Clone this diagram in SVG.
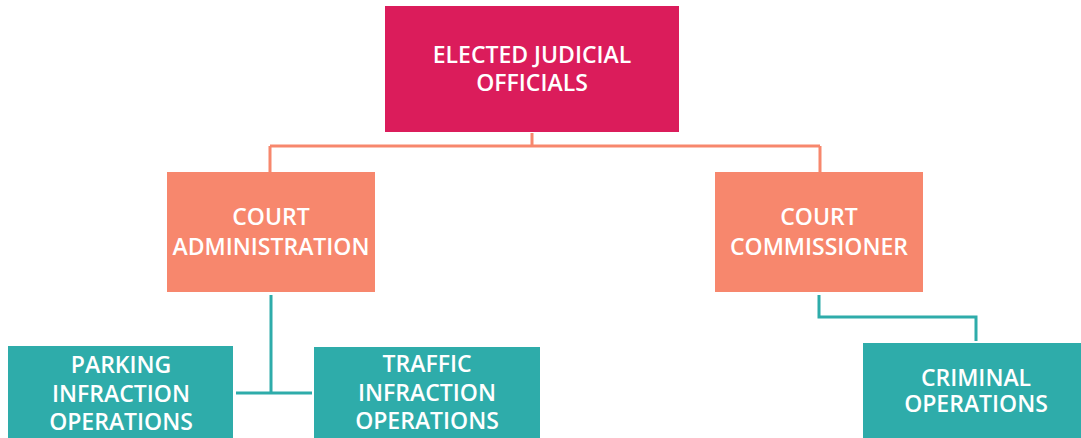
<svg xmlns="http://www.w3.org/2000/svg" width="1081" height="438" viewBox="0 0 1081 438">
<style>
.t{font-family:"Open Sans","Noto Sans","Liberation Sans",sans-serif;font-size:23px;font-weight:600;fill:#fff;text-anchor:middle}
.pink{fill:#DB1C5B}
.sal{fill:#F7876D}
.teal{fill:#2EACAA}
.cs{fill:none;stroke:#F7876D;stroke-width:3}
.ct{fill:none;stroke:#2EACAA;stroke-width:3}
</style>
<rect width="1081" height="438" fill="#fff"/>
<g id="connectors">
<path class="cs" d="M532 133V146M270 146H820M270 146V172M820 146V172"/>
<path class="ct" d="M271 295V393M236 393H312"/>
<path class="ct" d="M819 295V317H976V341"/>
</g>
<g id="elected"><rect class="pink" x="385" y="6" width="294" height="126"/>
<text class="t" x="532" y="63">ELECTED JUDICIAL</text><text class="t" x="532" y="91">OFFICIALS</text></g>
<g id="admin"><rect class="sal" x="167" y="172" width="208" height="120"/>
<text class="t" x="271" y="225">COURT</text><text class="t" x="271" y="255">ADMINISTRATION</text></g>
<g id="commissioner"><rect class="sal" x="715" y="172" width="208" height="120"/>
<text class="t" x="819" y="225">COURT</text><text class="t" x="819" y="255">COMMISSIONER</text></g>
<g id="parking"><rect class="teal" x="8" y="346" width="225" height="92"/>
<text class="t" x="121" y="373">PARKING</text><text class="t" x="121" y="402">INFRACTION</text><text class="t" x="121" y="430">OPERATIONS</text></g>
<g id="traffic"><rect class="teal" x="314" y="347" width="226" height="91"/>
<text class="t" x="427" y="372">TRAFFIC</text><text class="t" x="427" y="401">INFRACTION</text><text class="t" x="427" y="429">OPERATIONS</text></g>
<g id="criminal"><rect class="teal" x="863" y="343" width="218" height="95"/>
<text class="t" x="976" y="386">CRIMINAL</text><text class="t" x="976" y="412">OPERATIONS</text></g>
</svg>
